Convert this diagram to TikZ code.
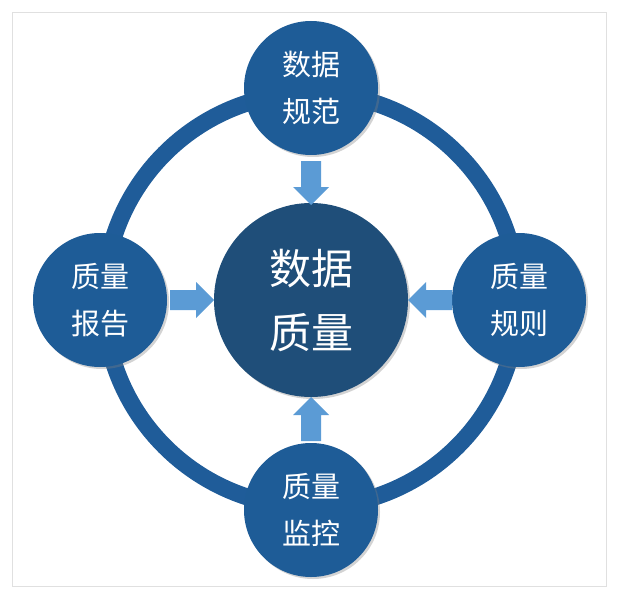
\documentclass[tikz,border=0pt]{standalone}
\usepackage{fontspec}
\newfontfamily\cjk{Noto Sans CJK SC}
\usetikzlibrary{shadows}
\definecolor{ringblue}{HTML}{1F5C99}
\definecolor{nodeblue}{HTML}{1E5C97}
\definecolor{coreblue}{HTML}{1F4E79}
\definecolor{arrowblue}{HTML}{5B9BD5}
\tikzset{
  small/.style={circle,fill=nodeblue,minimum size=134pt,inner sep=0pt,text=white,font=\cjk\fontsize{29}{47}\selectfont,align=center,drop shadow={opacity=0.35,shadow xshift=2pt,shadow yshift=-2pt}},
  core/.style={circle,fill=coreblue,minimum size=194pt,inner sep=0pt,text=white,font=\cjk\fontsize{42}{64}\selectfont,align=center,drop shadow={opacity=0.35,shadow xshift=2pt,shadow yshift=-2pt}},
  blockarrow/.style={fill=arrowblue}
}
\newcommand{\blockarr}[2]{%
  \begin{scope}[shift={#1},rotate=#2]
  \fill[blockarrow] (-22,-10) -- (4,-10) -- (4,-18) -- (22,0) -- (4,18) -- (4,10) -- (-22,10) -- cycle;
  \end{scope}}
\begin{document}
\begin{tikzpicture}[x=1pt,y=-1pt]
\useasboundingbox (0,0) rectangle (628,604);
\draw[black!12,line width=0.8pt] (12,12) rectangle (606,586);
\coordinate (o) at (311,300);
\draw[ringblue,line width=17pt] (o) circle[radius=207];
\node[core] (c) at (o) {数据\\质量};
\node[small] (t) at (311,88) {数据\\规范};
\node[small] (l) at (100,300) {质量\\报告};
\node[small] (r) at (519,300) {质量\\规则};
\node[small] (b) at (311,510) {质量\\监控};
\coordinate (at) at (311,183);
\coordinate (al) at (192,300);
\coordinate (ar) at (430,300);
\coordinate (ab) at (311,419);
\blockarr{(at)}{-90}
\blockarr{(al)}{0}
\blockarr{(ar)}{180}
\blockarr{(ab)}{90}
\end{tikzpicture}
\end{document}
